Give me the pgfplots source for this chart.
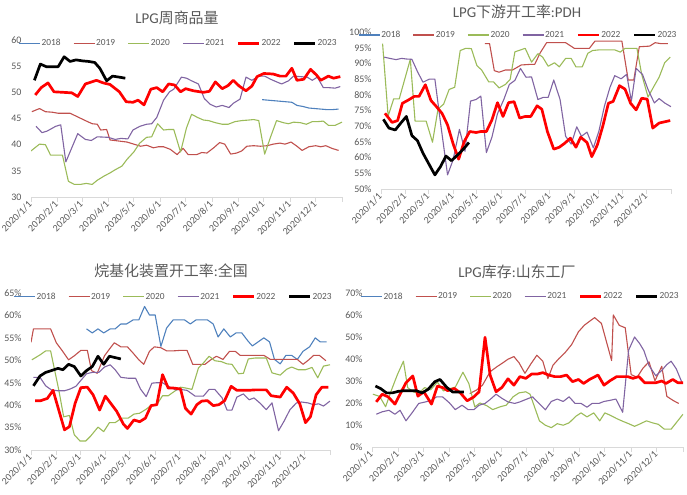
\documentclass[border=0pt]{standalone}
\usepackage{pgfplots}
\pgfplotsset{compat=1.18}
\usepackage{fontspec}
\setmainfont{Carlito}
\newfontfamily\cjk{Noto Sans CJK SC}
\definecolor{c18}{HTML}{4F81BD}
\definecolor{c19}{HTML}{C0504D}
\definecolor{c20}{HTML}{9BBB59}
\definecolor{c21}{HTML}{8064A2}
\definecolor{c22}{HTML}{FF0000}
\definecolor{c23}{HTML}{000000}
\definecolor{txt}{HTML}{595959}
\definecolor{axl}{HTML}{D9D9D9}
\pgfplotsset{
  panel/.style={
    scale only axis, xmin=0, xmax=366,
    /pgf/number format/assume math mode=true,
    axis x line*=bottom, axis y line*=left,
    y axis line style={draw=none}, ytick style={draw=none},
    x axis line style={draw=axl, line width=0.8bp},
    xtick style={draw=axl, line width=0.8bp},
    xtick align=outside, major tick length=5bp,
    xtick={0,31,60,91,121,152,182,213,244,274,305,335,366},
    xticklabels={2020/1/1,2020/2/1,2020/3/1,2020/4/1,2020/5/1,2020/6/1,2020/7/1,2020/8/1,2020/9/1,2020/10/1,2020/11/1,2020/12/1,{}},
    xticklabel style={rotate=45, anchor=east, font=\fontsize{10}{12}\selectfont, text=txt, inner sep=1bp},
    yticklabel style={font=\fontsize{10}{12}\selectfont, text=txt, xshift=-6bp},
    legend columns=6,
    legend image code/.code={\draw[#1] (0bp,0bp) -- (21bp,0bp);},
    legend style={draw=none, fill=none, font=\fontsize{9.4}{11}\selectfont, text=txt,
      anchor=center, nodes={inner sep=1bp},
      /tikz/every even column/.append style={column sep=11.5bp}},
  },
  s18/.style={c18, line width=1.1bp, line join=round},
  s19/.style={c19, line width=1.1bp, line join=round},
  s20/.style={c20, line width=1.1bp, line join=round},
  s21/.style={c21, line width=1.1bp, line join=round},
  s22/.style={c22, line width=2.7bp, line join=round},
  s23/.style={c23, line width=2.7bp, line join=round},
}
\begin{document}
\begin{tikzpicture}
\useasboundingbox (0,0) rectangle (687bp,495bp);
% ---------------- Panel 1
\node[text=txt, font=\fontsize{15}{18}\selectfont] at (177bp,477bp) {LPG{\cjk 周商品量}};
\begin{axis}[panel, at={(31bp,298bp)}, anchor=south west, width=311bp, height=157bp,
  ymin=30, ymax=60, ytick={30,35,40,45,50,55,60},
  legend style={at={(0.473,0.978)}}]
\addplot[s18] coordinates {(272,48.6)(279,48.5)(286,48.4)(293,48.3)(300,48.2)(307,48.1)(313,47.5)(320,47.3)(327,47.0)(334,46.9)(341,46.8)(348,46.7)(355,46.7)(362,46.8)};
\addlegendentry{2018}
\addplot[s19] coordinates {(1,46.3)(10,46.9)(17,46.3)(25,46.2)(32,46.0)(46,46.0)(55,45.3)(64,44.6)(72,44.0)(78,43.9)(82,42.8)(89,42.9)(93,40.9)(103,40.7)(113,40.5)(121,40.1)(129,39.7)(136,39.9)(144,39.4)(150,39.6)(156,39.6)(164,39.1)(172,38.1)(179,39.3)(185,38.1)(195,38.1)(201,38.5)(207,38.4)(215,39.4)(222,40.4)(228,40.1)(235,38.2)(242,38.4)(248,38.8)(254,39.7)(262,39.8)(270,39.7)(278,39.8)(285,40.1)(293,40.3)(299,40.1)(306,40.5)(313,39.7)(319,38.9)(327,39.6)(335,39.8)(341,39.6)(347,39.8)(354,39.3)(362,38.9)};
\addlegendentry{2019}
\addplot[s20] coordinates {(0,38.8)(10,40.1)(17,40.0)(23,38.0)(31,38.0)(37,38.0)(44,33.0)(51,32.4)(58,32.4)(65,32.6)(72,32.4)(78,33.2)(86,34.0)(93,34.6)(99,35.2)(107,35.9)(113,37.2)(121,38.6)(128,40.3)(136,41.4)(142,41.5)(149,44.0)(156,42.8)(162,42.9)(168,42.9)(176,38.6)(183,43.2)(189,45.8)(196,45.2)(203,44.7)(209,44.6)(217,44.2)(225,43.9)(232,43.9)(240,44.4)(248,44.6)(256,44.7)(262,44.8)(268,44.6)(275,38.2)(282,41.5)(289,44.6)(297,44.2)(303,44.0)(309,44.3)(317,44.2)(324,43.9)(331,44.4)(337,44.4)(344,44.5)(350,43.7)(358,43.7)(366,44.3)};
\addlegendentry{2020}
\addplot[s21] coordinates {(6,43.5)(13,42.3)(19,42.6)(29,43.5)(35,43.8)(41,36.7)(48,39.4)(55,42.1)(64,41.0)(71,40.8)(78,41.5)(91,41.4)(99,41.0)(106,41.2)(114,41.1)(120,42.8)(128,43.5)(136,43.9)(142,44.0)(148,45.2)(156,48.5)(163,50.1)(168,50.6)(177,52.9)(183,52.7)(189,52.2)(197,51.6)(204,48.8)(211,47.7)(218,47.2)(225,47.5)(233,47.1)(238,47.9)(246,48.7)(253,52.9)(260,52.3)(268,53.1)(275,53.1)(282,52.5)(289,52.0)(295,51.6)(303,52.2)(309,53.1)(317,53.0)(325,52.9)(331,52.3)(337,52.9)(344,50.9)(350,50.9)(358,50.8)(364,51.1)};
\addlegendentry{2021}
\addplot[s22] coordinates {(5,49.5)(12,50.9)(20,51.8)(27,50.1)(38,50.0)(48,49.9)(55,49.2)(64,51.6)(77,52.3)(85,51.8)(93,51.5)(104,50.1)(112,48.2)(120,48.1)(126,48.5)(133,47.6)(141,50.6)(148,50.9)(155,50.1)(162,51.6)(169,51.4)(176,50.1)(182,50.7)(191,50.3)(203,50.0)(210,50.2)(217,52.0)(225,50.7)(232,51.3)(238,52.3)(245,51.2)(253,50.3)(260,51.2)(266,53.0)(274,53.6)(285,53.5)(293,53.1)(300,53.1)(307,54.6)(313,52.3)(321,52.5)(329,54.4)(336,53.3)(341,52.3)(350,53.1)(356,52.7)(364,53.0)};
\addlegendentry{2022}
\addplot[s23] coordinates {(4,52.3)(11,55.4)(18,54.9)(25,54.9)(32,54.9)(39,56.8)(46,55.9)(53,56.2)(61,56.0)(68,55.9)(75,55.7)(81,54.6)(89,52.2)(96,53.1)(104,52.9)(111,52.7)};
\addlegendentry{2023}
\end{axis}
% ---------------- Panel 2
\node[text=txt, font=\fontsize{15}{18}\selectfont] at (517bp,483bp) {LPG{\cjk 下游开工率}:PDH};
\begin{axis}[panel, at={(381bp,306bp)}, anchor=south west, width=290bp, height=157bp,
  ymin=50, ymax=100, ytick={50,55,60,65,70,75,80,85,90,95,100},
  yticklabel={\pgfmathprintnumber{\tick}\%},
  legend style={at={(0.472,0.981)}}]
\addlegendimage{s18}
\addlegendentry{2018}
\addplot[s19] coordinates {(131,96.3)(137,96.3)(143,87.7)(149,87.2)(157,87.9)(166,87.9)(177,89.5)(189,89.7)(194,89.7)(201,93.4)(209,96.6)(233,96.6)(244,94.8)(263,94.8)(270,97.1)(304,97.1)(312,84.7)(319,84.7)(326,95.3)(339,95.5)(346,96.6)(353,96.3)(362,96.3)};
\addlegendentry{2019}
\addplot[s20] coordinates {(2,96.3)(9,73.2)(16,78.7)(23,78.7)(30,85.0)(37,91.3)(43,71.6)(50,71.6)(57,71.6)(65,64.9)(72,75.5)(79,77.0)(86,81.7)(93,82.4)(100,94.1)(107,94.8)(114,94.7)(121,89.3)(127,87.9)(136,84.1)(142,84.1)(149,82.2)(157,83.3)(163,84.9)(169,93.7)(175,94.2)(182,94.8)(190,90.4)(198,93.1)(204,92.0)(211,89.1)(219,90.2)(225,88.9)(233,91.6)(240,91.6)(246,88.9)(254,88.9)(261,93.2)(267,94.1)(275,94.3)(295,94.3)(302,93.6)(308,94.8)(323,94.8)(329,86.5)(337,79.3)(344,82.5)(351,85.6)(358,90.2)(365,92.0)};
\addlegendentry{2020}
\addplot[s21] coordinates {(4,92.0)(11,91.6)(19,91.2)(26,91.6)(32,91.4)(39,91.3)(46,87.4)(53,84.0)(61,85.0)(68,85.0)(76,69.4)(84,54.5)(91,59.3)(99,69.0)(106,62.0)(113,78.0)(120,78.5)(126,79.6)(133,61.6)(140,66.5)(147,74.0)(155,78.5)(162,83.3)(169,84.6)(176,88.4)(183,85.6)(190,85.7)(198,78.5)(205,79.2)(211,79.2)(218,84.7)(226,78.5)(233,66.8)(240,64.3)(247,69.8)(253,66.8)(260,68.1)(268,63.1)(275,68.4)(282,76.4)(289,82.4)(295,86.1)(303,85.1)(310,86.5)(316,78.0)(322,88.4)(330,86.5)(337,81.7)(345,77.4)(351,78.8)(358,77.4)(366,76.2)};
\addlegendentry{2021}
\addplot[s22] coordinates {(5,74.1)(14,71.2)(21,71.8)(27,77.3)(35,78.4)(42,79.5)(48,79.5)(56,83.2)(63,78.2)(69,76.5)(77,74.1)(84,70.4)(91,64.4)(98,59.5)(105,65.1)(112,68.3)(120,68.0)(126,68.3)(133,68.3)(140,72.0)(147,77.5)(154,73.1)(161,77.5)(168,77.8)(175,72.6)(182,73.1)(189,73.1)(197,76.5)(203,75.4)(210,68.3)(218,62.7)(225,63.3)(232,64.6)(239,66.2)(246,63.3)(252,66.5)(260,64.8)(266,60.3)(273,64.0)(280,70.1)(287,77.3)(293,77.9)(301,82.9)(308,81.8)(315,77.3)(322,75.2)(329,78.9)(336,78.6)(343,69.4)(351,71.0)(358,71.4)(365,71.8)};
\addlegendentry{2022}
\addplot[s23] coordinates {(3,72.2)(10,69.4)(18,68.8)(25,71.0)(32,73.1)(39,67.0)(46,65.4)(53,61.4)(61,57.7)(68,54.5)(75,57.1)(82,60.5)(89,59.0)(98,61.2)(105,63.0)(111,64.8)};
\addlegendentry{2023}
\end{axis}
% ---------------- Panel 3
\node[text=txt, font=\fontsize{15}{18}\selectfont] at (171bp,224bp) {{\cjk 烷基化装置开工率}:{\cjk 全国}};
\begin{axis}[panel, at={(31bp,45bp)}, anchor=south west, width=299bp, height=157bp,
  ymin=30, ymax=65, ytick={30,35,40,45,50,55,60,65},
  yticklabel={\pgfmathprintnumber{\tick}\%},
  legend style={at={(0.475,0.976)}}]
\addplot[s18] coordinates {(68,57.0)(75,56.1)(82,57.0)(89,56.1)(97,57.0)(103,57.0)(110,58.1)(117,58.1)(125,59.0)(132,59.0)(139,62.0)(145,60.1)(152,60.1)(159,53.1)(166,57.2)(174,59.0)(181,59.0)(188,59.0)(195,58.1)(202,59.0)(209,59.0)(216,59.0)(223,58.1)(229,55.2)(236,57.0)(244,55.2)(251,56.1)(258,56.1)(266,54.2)(271,53.2)(278,54.1)(285,55.0)(292,54.1)(298,50.2)(305,49.2)(312,51.1)(319,51.1)(326,50.2)(333,52.0)(341,53.0)(348,55.0)(354,54.1)(362,54.1)};
\addlegendentry{2018}
\addplot[s19] coordinates {(0,54.0)(3,57.0)(11,57.0)(18,57.0)(24,57.0)(31,53.9)(38,52.2)(46,50.1)(53,51.0)(61,52.2)(69,52.2)(74,47.7)(81,47.1)(90,51.0)(96,52.5)(102,53.9)(110,53.0)(118,53.0)(125,51.6)(132,50.1)(138,49.1)(145,52.0)(151,53.0)(159,52.8)(166,52.1)(174,52.1)(182,52.2)(191,52.2)(198,49.1)(206,49.1)(213,49.1)(220,50.1)(227,50.9)(235,50.2)(243,52.0)(250,52.0)(256,51.1)(263,51.1)(270,51.1)(277,51.1)(285,51.1)(293,50.2)(300,50.2)(307,50.2)(314,50.2)(320,50.2)(326,50.2)(333,49.1)(340,50.1)(346,51.1)(353,51.1)(361,49.9)};
\addlegendentry{2019}
\addplot[s20] coordinates {(1,50.1)(11,51.2)(18,52.1)(24,52.1)(34,43.4)(40,37.4)(47,37.7)(53,33.4)(60,32.0)(67,32.0)(73,33.1)(82,35.1)(89,34.1)(96,36.1)(103,36.1)(111,37.1)(119,37.1)(126,38.0)(133,38.2)(141,39.1)(148,40.1)(154,40.1)(161,42.1)(168,42.1)(175,43.0)(183,44.0)(190,43.8)(197,43.5)(205,48.3)(211,49.4)(218,50.9)(225,49.9)(233,49.7)(240,49.2)(246,49.1)(254,47.0)(260,47.1)(266,50.3)(274,50.5)(281,50.5)(288,50.5)(295,47.2)(305,46.7)(313,48.0)(319,48.5)(327,47.9)(336,47.9)(344,48.4)(351,46.1)(358,48.7)(366,49.0)};
\addlegendentry{2020}
\addplot[s21] coordinates {(3,46.2)(11,46.2)(18,44.3)(25,43.4)(33,43.2)(41,43.2)(48,43.6)(55,44.2)(60,45.3)(68,47.0)(75,47.3)(83,47.3)(90,48.5)(97,49.0)(103,47.9)(110,46.2)(119,46.0)(128,46.0)(134,43.6)(141,41.9)(148,44.9)(154,45.0)(161,45.0)(168,44.2)(177,43.4)(183,43.5)(191,43.3)(201,42.0)(211,42.0)(218,43.5)(225,43.5)(234,41.6)(240,38.9)(246,38.9)(252,41.8)(260,42.5)(267,41.2)(273,41.6)(280,40.5)(288,39.0)(295,40.5)(303,34.3)(310,36.5)(317,39.0)(325,40.5)(331,40.7)(339,40.5)(346,40.1)(352,40.3)(358,39.8)(366,40.9)};
\addlegendentry{2021}
\addplot[s22] coordinates {(5,41.0)(12,41.0)(20,41.5)(27,43.3)(34,38.9)(41,34.5)(47,35.2)(54,40.4)(61,43.9)(69,44.0)(76,42.3)(84,38.9)(91,42.0)(98,40.3)(105,38.6)(113,35.8)(118,34.8)(126,36.7)(133,36.3)(140,37.1)(147,39.9)(154,40.1)(161,46.8)(168,43.8)(175,43.8)(183,43.6)(189,39.3)(196,38.0)(203,40.1)(209,40.9)(216,41.0)(223,39.9)(230,40.1)(237,41.0)(245,44.2)(252,43.3)(259,43.3)(266,43.3)(274,43.4)(288,43.4)(294,42.1)(305,41.8)(313,44.0)(321,42.7)(329,40.3)(336,36.1)(342,37.4)(349,42.3)(356,44.0)(364,44.0)};
\addlegendentry{2022}
\addplot[s23] coordinates {(3,44.3)(11,46.5)(18,47.3)(25,47.7)(33,48.2)(39,47.9)(46,49.1)(53,48.6)(61,46.5)(68,47.7)(75,48.6)(82,50.9)(89,49.1)(96,50.9)(103,50.6)(110,50.3)};
\addlegendentry{2023}
\end{axis}
% ---------------- Panel 4
\node[text=txt, font=\fontsize{15}{18}\selectfont] at (517bp,223bp) {LPG{\cjk 库存}:{\cjk 山东工厂}};
\begin{axis}[panel, at={(372bp,48bp)}, anchor=south west, width=311bp, height=154bp,
  ymin=0, ymax=70, ytick={0,10,20,30,40,50,60,70},
  yticklabel={\pgfmathprintnumber{\tick}\%},
  legend style={at={(0.476,0.976)}}]
\addlegendimage{s18}
\addlegendentry{2018}
\addplot[s19] coordinates {(115,24.3)(123,25.9)(130,28.1)(139,34.2)(147,36.5)(153,38.0)(160,39.9)(167,41.1)(173,38.3)(180,33.5)(187,37.8)(194,41.7)(201,39.0)(207,31.1)(213,37.2)(220,40.2)(227,42.8)(235,46.6)(243,52.4)(250,55.4)(258,57.7)(262,58.8)(270,56.2)(282,39.3)(284,60.0)(291,55.3)(298,54.2)(305,32.9)(312,31.7)(319,35.9)(326,38.7)(333,30.1)(341,36.7)(347,23.0)(355,21.0)(361,19.8)};
\addlegendentry{2019}
\addplot[s20] coordinates {(1,24.0)(9,23.0)(16,18.3)(23,26.0)(30,33.0)(37,39.0)(42,27.0)(49,25.0)(55,24.5)(62,27.0)(69,26.0)(77,29.5)(84,25.5)(91,26.5)(98,27.2)(107,34.0)(114,28.8)(121,18.2)(127,20.0)(135,18.8)(142,17.0)(151,18.3)(158,19.0)(166,22.8)(173,24.6)(181,25.1)(186,24.0)(197,11.9)(204,9.9)(211,8.8)(218,10.6)(225,9.9)(232,11.0)(240,14.0)(246,15.5)(253,13.7)(261,15.5)(268,11.9)(274,15.5)(280,14.5)(288,12.9)(295,11.7)(302,10.6)(309,9.4)(316,10.6)(323,11.9)(330,11.0)(337,10.3)(344,8.1)(352,8.1)(358,11.0)(366,14.9)};
\addlegendentry{2020}
\addplot[s21] coordinates {(5,14.9)(12,16.0)(20,16.7)(27,14.9)(33,16.7)(40,11.9)(48,16.0)(55,19.8)(63,20.5)(70,21.3)(76,22.8)(83,22.8)(91,20.1)(98,17.0)(106,19.0)(113,17.0)(120,17.0)(126,19.0)(133,19.8)(139,21.6)(146,24.0)(153,22.1)(160,20.5)(168,19.8)(174,20.5)(181,21.6)(189,22.8)(196,20.0)(204,16.9)(211,20.7)(218,21.8)(225,20.7)(232,22.8)(239,19.8)(246,19.8)(253,18.1)(259,19.8)(267,19.8)(273,20.7)(280,21.2)(287,21.8)(295,15.8)(302,44.0)(309,50.0)(315,47.0)(320,43.8)(326,37.0)(334,32.4)(341,34.8)(347,37.5)(352,39.0)(358,35.6)(365,29.1)};
\addlegendentry{2021}
\addplot[s22] coordinates {(5,20.5)(12,24.0)(19,22.8)(27,19.5)(33,24.0)(40,29.2)(48,32.3)(54,23.1)(61,25.1)(70,19.5)(77,27.7)(84,26.9)(89,25.6)(97,26.6)(104,24.6)(112,21.0)(120,22.8)(126,25.1)(133,49.9)(139,32.7)(146,25.1)(153,27.1)(160,31.0)(167,28.1)(174,32.0)(181,31.2)(188,33.2)(195,33.2)(201,33.8)(208,32.7)(215,32.0)(222,32.0)(229,32.7)(236,29.7)(243,30.7)(249,28.9)(256,30.7)(266,32.7)(273,28.1)(280,30.1)(288,32.0)(295,32.0)(301,32.0)(307,31.2)(314,32.0)(321,29.2)(327,29.2)(334,29.2)(341,30.0)(346,28.9)(354,30.7)(360,29.2)(366,29.2)};
\addlegendentry{2022}
\addplot[s23] coordinates {(4,27.7)(10,26.6)(17,24.6)(24,24.6)(31,25.3)(38,25.6)(44,25.6)(52,25.6)(59,24.6)(66,26.2)(74,29.7)(80,30.7)(88,27.1)(95,25.0)(101,25.0)(108,25.0)};
\addlegendentry{2023}
\end{axis}
\end{tikzpicture}
\end{document}
